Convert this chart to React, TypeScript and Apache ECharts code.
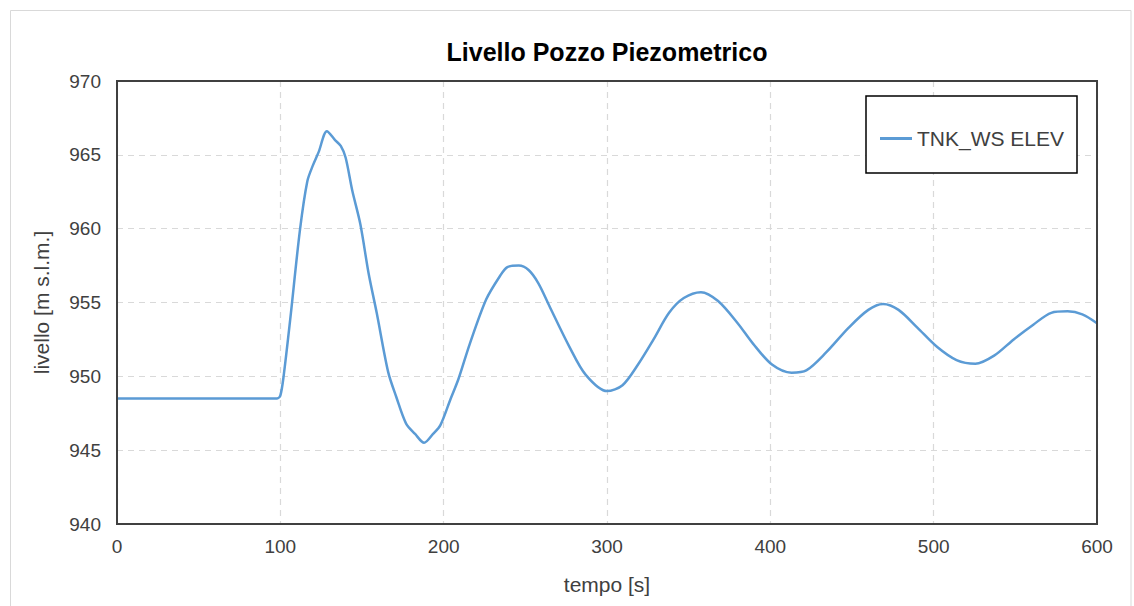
import React, { useEffect, useRef } from "react";
import * as echarts from "echarts";

const chartTitle = "Livello Pozzo Piezometrico";
const seriesName = "TNK_WS ELEV";
const xAxisName = "tempo [s]";
const yAxisName = "livello [m s.l.m.]";

const timeS = [
  0, 50, 98, 100, 102, 106, 112, 116.5, 120, 123.5, 128.5, 133.5, 137, 140, 144, 149, 154, 159, 166, 171,
  177, 182.5, 188, 193.5, 198, 204, 209, 216, 226, 234.5, 239, 246, 252, 258, 265, 277, 287, 300, 309.5, 319,
  328.5, 338, 347, 357.5, 368, 380, 389.5, 401, 413, 422, 434, 448, 460, 469, 478.5, 490, 502, 514, 525.5, 537,
  549, 561, 572, 582, 591, 600,
];
const levelM = [
  948.5, 948.5, 948.5, 948.7, 950.0, 953.8, 959.9, 963.2, 964.3, 965.2, 966.6, 966.0, 965.6, 964.8, 962.6, 960.3,
  957.0, 954.3, 950.3, 948.6, 946.8, 946.1, 945.5, 946.1, 946.7, 948.4, 949.8, 952.2, 955.2, 956.8, 957.4, 957.5,
  957.2, 956.3, 954.7, 952.0, 950.1, 949.0, 949.4, 950.8, 952.5, 954.3, 955.3, 955.7, 955.1, 953.6, 952.2, 950.8,
  950.25, 950.4, 951.6, 953.3, 954.5, 954.9, 954.5, 953.3, 952.0, 951.1, 950.85, 951.4, 952.5, 953.5, 954.3, 954.4,
  954.2, 953.6,
];

const FONT = "'Liberation Sans', Arial, sans-serif";
const TEXT = "#404040";

export default function App() {
  const ref = useRef<HTMLDivElement>(null);
  useEffect(() => {
    if (!ref.current) return;
    const chart = echarts.init(ref.current, null, { renderer: "svg" });
    const data = timeS.map((t, i) => [t, levelM[i]]);
    chart.setOption({
      animation: false,
      backgroundColor: "#ffffff",
      textStyle: { fontFamily: FONT },
      title: {
        text: chartTitle,
        left: 602,
        top: 34,
        textAlign: "center",
        textStyle: { fontFamily: FONT, fontSize: 25, fontWeight: "bold", color: "#000000" },
      },
      graphic: [
        {
          type: "rect",
          shape: { x: 10.5, y: 10.5, width: 1120.5, height: 800 },
          style: { fill: "none", stroke: "#d9d9d9", lineWidth: 1 },
          silent: true,
          z: -1,
        },
        {
          type: "rect",
          shape: { x: 117, y: 81, width: 980, height: 443 },
          style: { fill: "none", stroke: "#404040", lineWidth: 2 },
          silent: true,
          z: 4,
        },
        {
          type: "rect",
          shape: { x: 866, y: 96, width: 211, height: 77 },
          style: { fill: "#ffffff", stroke: "#000000", lineWidth: 1.5 },
          silent: true,
          z: 5,
        },
      ],
      legend: {
        left: 880,
        top: 128,
        padding: 0,
        icon: "rect",
        itemWidth: 32,
        itemHeight: 3,
        z: 10,
        textStyle: { fontFamily: FONT, fontSize: 21, color: TEXT },
        data: [{ name: seriesName }],
      },
      grid: {
        left: 117,
        right: 37,
        top: 81,
        bottom: 82,
        show: false,
        containLabel: false,
      },
      xAxis: {
        type: "value",
        min: 0,
        max: 600,
        interval: 100,
        name: xAxisName,
        nameLocation: "middle",
        nameGap: 50,
        nameTextStyle: { fontFamily: FONT, fontSize: 21, color: TEXT },
        axisLine: { show: false },
        axisTick: { show: false },
        axisLabel: { fontFamily: FONT, fontSize: 19, color: TEXT, margin: 13 },
        splitLine: { show: true, lineStyle: { color: "#d9d9d9", type: [6, 5], width: 1.2 } },
      },
      yAxis: {
        type: "value",
        min: 940,
        max: 970,
        interval: 5,
        name: yAxisName,
        nameLocation: "middle",
        nameGap: 65,
        nameTextStyle: { fontFamily: FONT, fontSize: 21, color: TEXT },
        axisLine: { show: false },
        axisTick: { show: false },
        axisLabel: { fontFamily: FONT, fontSize: 19, color: TEXT, margin: 16 },
        splitLine: { show: true, lineStyle: { color: "#d9d9d9", type: [6, 5], width: 1.2 } },
      },
      series: [
        {
          name: seriesName,
          type: "line",
          data,
          smooth: 0.3,
          symbol: "none",
          lineStyle: { color: "#5B9BD5", width: 2.5 },
          itemStyle: { color: "#5B9BD5" },
        },
      ],
    });
    return () => chart.dispose();
  }, []);
  return (
    <div
      ref={ref}
      style={{ position: "fixed", left: 0, top: 0, width: 1134, height: 606, background: "#fff" }}
    />
  );
}
